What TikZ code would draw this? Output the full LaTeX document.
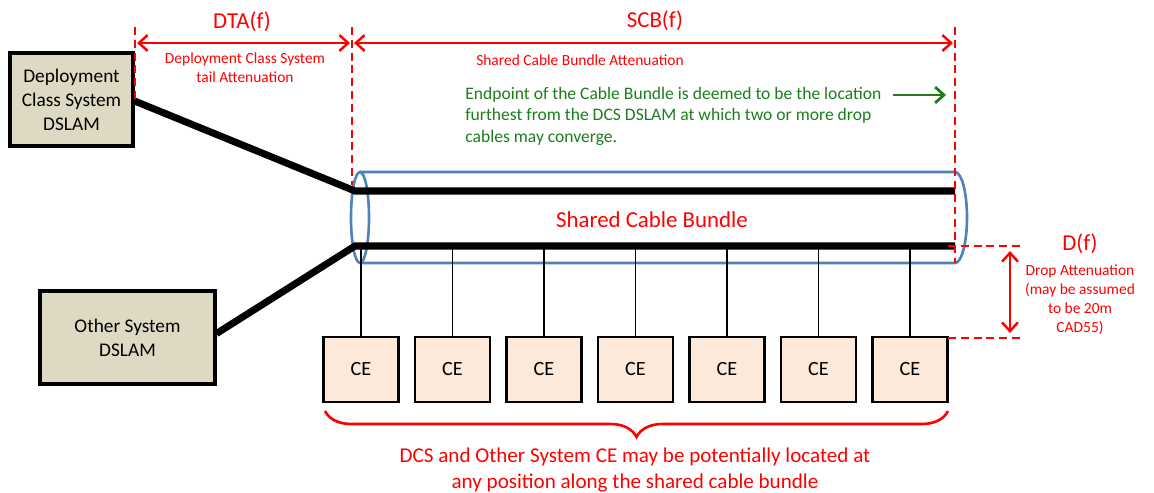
\documentclass[tikz,border=0pt]{standalone}
\usepackage{fontspec}
\setmainfont{Carlito}
\usetikzlibrary{arrows.meta,decorations.pathreplacing,positioning}
\definecolor{dslamfill}{RGB}{221,217,195}
\definecolor{cefill}{RGB}{253,233,217}
\definecolor{bundleblue}{RGB}{79,129,189}
\definecolor{notegreen}{RGB}{28,125,28}

\begin{document}
\begin{tikzpicture}[x=0.02cm,y=-0.02cm,
  dslam/.style={draw, line width=1.8pt, fill=dslamfill, align=center, inner sep=0pt, font=\fontsize{11}{13.6}\selectfont},
  cebox/.style={draw, line width=1.6pt, fill=cefill, minimum width=1.5cm, minimum height=1.3cm, inner sep=0pt, font=\fontsize{11.5}{13}\selectfont},
  cable/.style={line width=4pt},
  drop/.style={line width=1.1pt},
  marker/.style={red, line width=1.6pt, dash pattern=on 4.5pt off 2.8pt},
  span/.style={red, line width=1.4pt, {Straight Barb[length=5pt,width=9pt]}-{Straight Barb[length=5pt,width=9pt]}},
  biglabel/.style={red, inner sep=0pt, font=\fontsize{13}{15.5}\selectfont},
  smalllabel/.style={red, inner sep=0pt, align=center, font=\fontsize{8.8}{10.8}\selectfont}]
\useasboundingbox (0,0) rectangle (1154,493);

% DSLAMs
\node[dslam, minimum width=2.46cm, minimum height=1.86cm] (DCS) at (71.5,99.5) {Deployment\\Class System\\DSLAM};
\node[dslam, minimum width=3.5cm, minimum height=1.86cm] (Other) at (127.5,337.5) {Other System\\DSLAM};

% bundle ends
\coordinate (TopIn) at (355,191);
\coordinate (TopOut) at (955,191);
\coordinate (BotIn) at (355,246);
\coordinate (BotOut) at (955,246);

% cable bundle (cylinder)
\draw[bundleblue, line width=1.5pt] (360,172) -- (955,172) arc[start angle=-90, end angle=90, x radius=12, y radius=45.5] -- (360,263);
\draw[bundleblue, line width=1.5pt] (360,217.5) ellipse [x radius=9, y radius=45.5];

% cables
\draw[cable] (DCS.east) ++(0,1.5) -- (TopIn) -- (TopOut);
\draw[cable] (Other.east) ++(0,-4) -- (BotIn) -- (BotOut);
\node[biglabel] (Bundle) at (652,220) {Shared Cable Bundle};

% CE boxes and drops
\foreach \i in {0,...,6}{
  \node[cebox] (CE\i) at (361+91.5*\i,369.5) {CE};
  \draw[drop] (CE\i.north) -- (CE\i.north |- BotIn);
}

% markers
\draw[marker] (135,27) -- (135,100);
\draw[marker] (352,27) -- (352,185);
\draw[marker] (955,27) -- (955,263);
\draw[marker] (948,246) -- (1020,246);
\draw[marker] (948,338) -- (1020,338);

% DTA
\coordinate (DtaL) at (137,43);
\coordinate (DtaR) at (350,43);
\draw[span] (DtaL) -- (DtaR);
\node[biglabel] (DTA) at (242,22) {DTA(f)};
\node[smalllabel] (DTAtext) at (245,67.5) {Deployment Class System\\tail Attenuation};

% SCB
\coordinate (ScbL) at (354,43);
\coordinate (ScbR) at (953,43);
\draw[span] (ScbL) -- (ScbR);
\node[biglabel] (SCB) at (655,21) {SCB(f)};
\node[smalllabel] (SCBtext) at (580,60) {Shared Cable Bundle Attenuation};

% endpoint note
\node[notegreen, anchor=north west, align=left, inner sep=0pt, font=\fontsize{10}{12.2}\selectfont] (Note) at (465,87) {Endpoint of the Cable Bundle is deemed to be the location\\furthest from the DCS DSLAM at which two or more drop\\cables may converge.};
\coordinate (NoteTip) at (946,95);
\draw[notegreen, line width=1.6pt, -{Straight Barb[length=5pt,width=9pt]}] (893,95) -- (NoteTip);

% drop
\coordinate (DropTop) at (1010,251);
\coordinate (DropBot) at (1010,333);
\draw[span] (DropTop) -- (DropBot);
\node[biglabel] (Df) at (1080,244) {D(f)};
\node[smalllabel] (Droptext) at (1080,299.5) {Drop Attenuation\\(may be assumed\\to be 20m\\CAD55)};

% brace
\coordinate (BraceL) at (325,411);
\coordinate (BraceR) at (948,411);
\draw[red, line width=1.5pt, decorate, decoration={brace, mirror, amplitude=0.52cm}] (BraceL) -- (BraceR);
\node[red, align=center, inner sep=0pt, font=\fontsize{12}{14.7}\selectfont] (Position) at (635,470) {DCS and Other System CE may be potentially located at\\any position along the shared cable bundle};
\end{tikzpicture}
\end{document}
